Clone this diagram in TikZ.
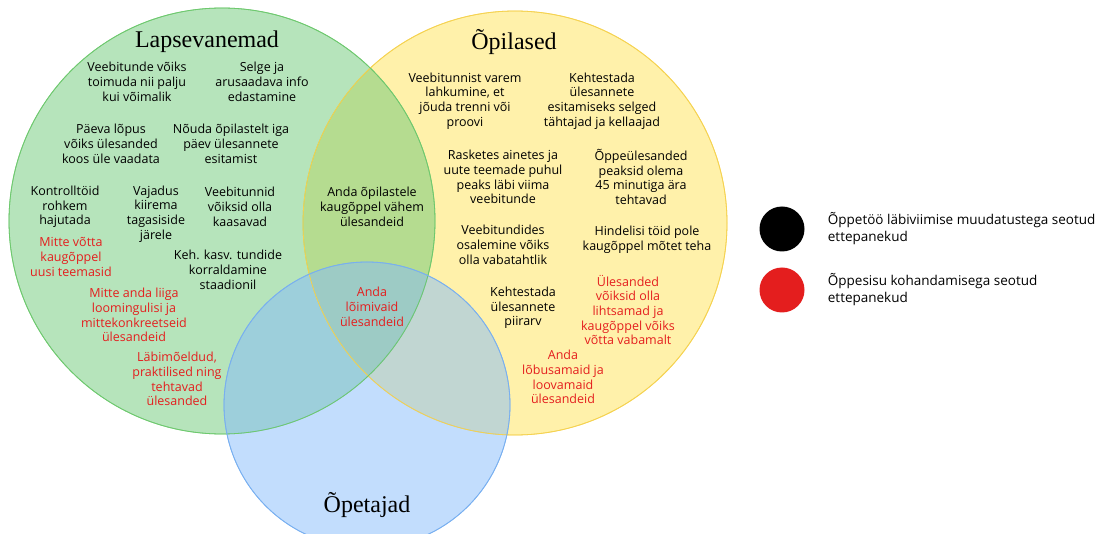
\documentclass[tikz,border=0pt]{standalone}
\usepackage{fontspec}
\usepackage{tikz}
\usetikzlibrary{positioning}
\setmainfont{Open Sans}
\newfontfamily\titlefont{Liberation Serif}
\definecolor{vennGreen}{RGB}{109,201,119}
\definecolor{vennYellow}{RGB}{255,227,85}
\definecolor{vennBlue}{RGB}{133,187,251}
\definecolor{lineGreen}{RGB}{110,200,110}
\definecolor{lineYellow}{RGB}{245,210,80}
\definecolor{lineBlue}{RGB}{120,175,240}
\definecolor{tipRed}{RGB}{228,30,30}

\begin{document}
\begin{tikzpicture}[
    x=1pt, y=-1pt,
    set/.style={fill opacity=0.5, draw opacity=0.8, line width=0.8pt},
    title/.style={inner sep=0pt, font=\titlefont\fontsize{24}{28}\selectfont},
    idea/.style={align=center, inner sep=0pt, font=\fontsize{12.5}{14.7}\selectfont},
    content/.style={idea, text=tipRed},
    dot/.style={circle, minimum size=45pt, inner sep=0pt},
    legend/.style={align=left, inner sep=0pt, font=\fontsize{13.5}{17}\selectfont}
]
    \useasboundingbox (0,0) rectangle (1108,534);

    % the three sets
    \fill[set, fill=vennYellow, draw=lineYellow] (515,223) circle[radius=212pt];
    \fill[set, fill=vennGreen, draw=lineGreen] (222,221) circle[radius=213pt];
    \fill[set, fill=vennBlue, draw=lineBlue] (367,405) circle[radius=143pt];
    \draw[lineYellow, line width=0.8pt] (515,223) circle[radius=212pt];
    \draw[lineGreen, line width=0.8pt] (222,221) circle[radius=213pt];
    \draw[lineBlue, line width=0.8pt] (367,405) circle[radius=143pt];

    \node[title] (parents) at (207,42) {Lapsevanemad};
    \node[title] (pupils) at (514,42) {Õpilased};
    \node[title] (teachers) at (367,505) {Õpetajad};

    % Lapsevanemad
    \node[idea] (p1) at (137,82) {Veebitunde võiks\\toimuda nii palju\\kui võimalik};
    \node[idea] (p2) at (262,82) {Selge ja\\arusaadava info\\edastamine};
    \node[idea] (p3) at (111,144) {Päeva lõpus\\võiks ülesanded\\koos üle vaadata};
    \node[idea] (p4) at (231,144) {Nõuda õpilastelt iga\\päev ülesannete\\esitamist};
    \node[idea] (p5) at (65,207) {Kontrolltöid\\rohkem\\hajutada};
    \node[idea] (p6) at (156,214) {Vajadus\\kiirema\\tagasiside\\järele};
    \node[idea] (p7) at (240,207) {Veebitunnid\\võiksid olla\\kaasavad};
    \node[content] (p8) at (71,257) {Mitte võtta\\kaugõppel\\uusi teemasid};
    \node[idea] (p9) at (228,270) {Keh. kasv. tundide\\korraldamine\\staadionil};
    \node[content] (p10) at (134,315) {Mitte anda liiga\\loomingulisi ja\\mittekonkreetseid\\ülesandeid};
    \node[content] (p11) at (177,379) {Läbimõeldud,\\praktilised ning\\tehtavad\\ülesanded};

    % overlaps
    \node[idea] (py1) at (372,207) {Anda õpilastele\\kaugõppel vähem\\ülesandeid};
    \node[content] (all1) at (372,307) {Anda\\lõimivaid\\ülesandeid};

    % Õpilased
    \node[idea] (s1) at (465,101) {Veebitunnist varem\\lahkumine, et\\jõuda trenni või\\proovi};
    \node[idea] (s2) at (602,101) {Kehtestada\\ülesannete\\esitamiseks selged\\tähtajad ja kellaajad};
    \node[idea] (s3) at (503,177) {Rasketes ainetes ja\\uute teemade puhul\\peaks läbi viima\\veebitunde};
    \node[idea] (s4) at (641,177) {Õppeülesanded\\peaksid olema\\45 minutiga ära\\tehtavad};
    \node[idea] (s5) at (503,245) {Veebitundides\\osalemine võiks\\olla vabatahtlik};
    \node[idea] (s6) at (647,240) {Hindelisi töid pole\\kaugõppel mõtet teha};
    \node[idea] (s7) at (523,308) {Kehtestada\\ülesannete\\piirarv};
    \node[content] (s8) at (628,310) {Ülesanded\\võiksid olla\\lihtsamad ja\\kaugõppel võiks\\võtta vabamalt};
    \node[content] (s9) at (563,377) {Anda\\lõbusamaid ja\\loovamaid\\ülesandeid};

    % legend
    \node[dot, fill=black] (method) at (782,229) {};
    \node[dot, fill=tipRed] (topic) at (782,290) {};
    \node[legend, right=23pt of method] (methodtxt) {Õppetöö läbiviimise muudatustega seotud\\ettepanekud};
    \node[legend, right=23pt of topic] (topictxt) {Õppesisu kohandamisega seotud\\ettepanekud};
\end{tikzpicture}
\end{document}
